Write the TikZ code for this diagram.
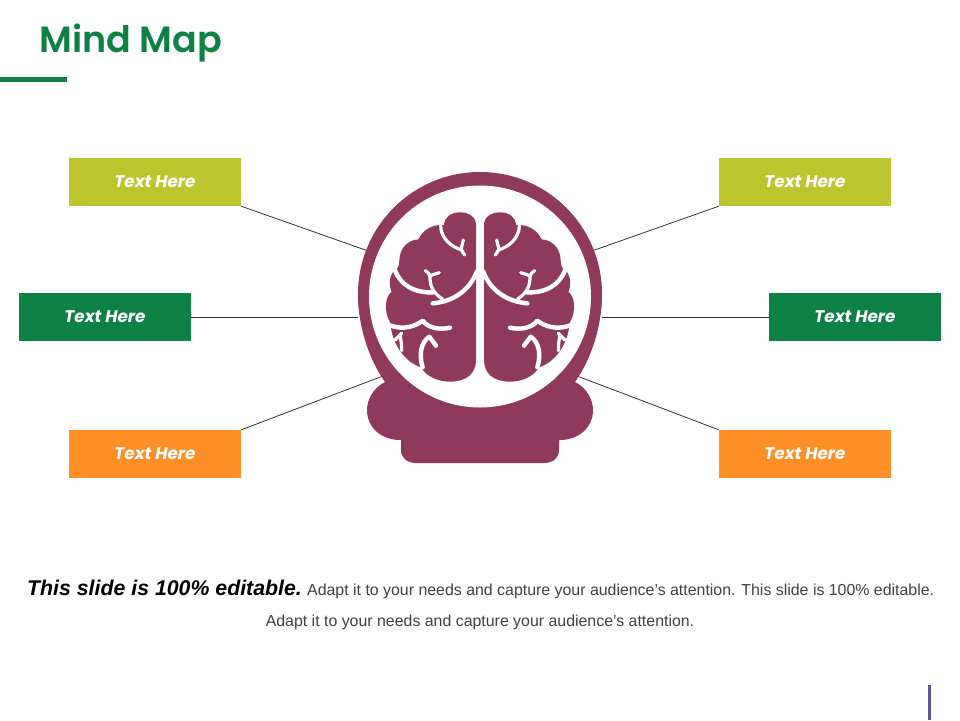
\documentclass[tikz,border=0pt]{standalone}
\usepackage{fontspec}
\setmainfont[Ligatures=NoCommon]{Liberation Sans}
\newfontfamily\headfont{Poppins}
\newfontfamily\titlefont{Poppins SemiBold}
\usetikzlibrary{calc}
\definecolor{brainc}{HTML}{8F3A5C}
\definecolor{limec}{HTML}{BEC62F}
\definecolor{greenc}{HTML}{0E8145}
\definecolor{orangec}{HTML}{FE8F27}
\definecolor{barc}{HTML}{5B5B94}
\definecolor{bodyc}{HTML}{404040}
\tikzset{
  textbox/.style={minimum width=172pt,minimum height=48pt,inner sep=0pt,text=white,
    font=\headfont\fontsize{16.8}{20}\selectfont\bfseries\itshape},
  conn/.style={draw=black!80,line width=0.8pt},
  crease/.style={draw=white,line width=4.4pt,line cap=round,line join=round},
  finecrease/.style={draw=white,line width=3.2pt,line cap=round,line join=round},
}
\begin{document}
\begin{tikzpicture}[x=1pt,y=-1pt]
\useasboundingbox (0,0) rectangle (960,720);
\fill[white] (0,0) rectangle (960,720);
% title
\node[anchor=base west,inner sep=0pt,text=greenc,font=\titlefont\fontsize{36.5}{40}\selectfont] (title) at (39,52) {Mind Map};
\fill[greenc] (0,77) rectangle (67,82);
% boxes
\node[textbox,fill=limec] (tl) at (155,182) {Text Here};
\node[textbox,fill=limec] (tr) at (805,182) {Text Here};
\node[textbox,fill=greenc] (ml) at (105,317) {Text Here};
\node[textbox,fill=greenc] (mr) at (855,317) {Text Here};
\node[textbox,fill=orangec] (bl) at (155,454) {Text Here};
\node[textbox,fill=orangec] (br) at (805,454) {Text Here};
% ring
\node[circle,fill=brainc,minimum size=244pt,inner sep=0pt] (ring) at (480,294) {};
% connectors
\draw[conn] (tl.south east) -- (ring.159);
\draw[conn] (tr.south west) -- (ring.21);
\draw[conn] (ml.east) -- (ring.west |- ml.east);
\draw[conn] (mr.west) -- (ring.east |- mr.west);
\draw[conn] (bl.north east) -- (ring.221);
\draw[conn] (br.north west) -- (ring.319);
% base and flared lower part of the ring
\fill[brainc] (358,294)
  .. controls (358,325) and (368,358) .. (385,382)
  .. controls (373,388) and (367,400) .. (367,410)
  .. controls (367,428) and (382,440) .. (400,440)
  -- (401,440) -- (401,450) .. controls (401,458) and (407,463) .. (416,463)
  -- (544,463) .. controls (553,463) and (559,458) .. (559,450)
  -- (559,440) -- (560,440)
  .. controls (578,440) and (593,428) .. (593,410)
  .. controls (593,400) and (587,388) .. (575,382)
  .. controls (592,358) and (602,325) .. (602,294) -- cycle;
\fill[white] (480,296.5) circle[radius=111];
% brain
\foreach \s in {1,-1}{
\begin{scope}[shift={(480,160)},xscale=\s/3,yscale=1/3,shift={(-390,0)}]
\fill[brainc] (378,195)
  .. controls (378,170) and (355,157) .. (330,157)
  .. controls (305,157) and (283,170) .. (282,195)
  -- (268,195)
  .. controls (245,197) and (220,208) .. (205,238)
  .. controls (175,240) and (150,262) .. (148,300)
  .. controls (147,312) and (148,322) .. (135,330)
  .. controls (118,345) and (115,375) .. (125,395)
  .. controls (105,410) and (100,455) .. (122,490)
  .. controls (122,530) and (150,600) .. (212,622)
  .. controls (230,650) and (265,665) .. (300,665)
  .. controls (350,665) and (378,640) .. (378,600) -- cycle;
% creases
\draw[finecrease] (272,197) .. controls (272,235) and (305,262) .. (336,270);
\draw[finecrease] (340,240) -- (333,268) -- (344,285);
\draw[crease] (135,330) .. controls (150,375) and (195,400) .. (250,397);
\draw[crease] (380,335) .. controls (360,390) and (310,425) .. (248,430);
\draw[finecrease] (226,332) .. controls (235,338) and (240,345) .. (240,350)
  .. controls (240,375) and (245,395) .. (278,418);
\draw[finecrease] (268,338) .. controls (258,342) and (246,344) .. (240,348);
\draw[crease] (122,497) .. controls (160,510) and (195,500) .. (218,482)
  .. controls (235,505) and (270,510) .. (300,503);
\draw[crease] (218,622) .. controls (205,580) and (215,545) .. (238,530) -- (258,557);
\draw[finecrease] (155,520) -- (135,540);
\draw[finecrease] (150,525) .. controls (153,540) and (155,555) .. (155,572);
\end{scope}}
% body text
\node[anchor=base west,inner sep=0pt,font=\fontsize{21.3}{24}\selectfont\bfseries\itshape,text=black] (lead) at (27,595) {This slide is 100\% editable.};
\node[anchor=base west,inner sep=0pt,font=\fontsize{15.9}{20}\selectfont,text=bodyc] (rest) at (307,595) {Adapt it to your needs and capture your audience\char39 s attention. This slide is 100\% editable.};
\node[anchor=base,inner sep=0pt,font=\fontsize{15.9}{20}\selectfont,text=bodyc] (second) at (480,626) {Adapt it to your needs and capture your audience\char39 s attention.};
% corner bar
\fill[barc] (928,685) rectangle (931,720);
\end{tikzpicture}
\end{document}
